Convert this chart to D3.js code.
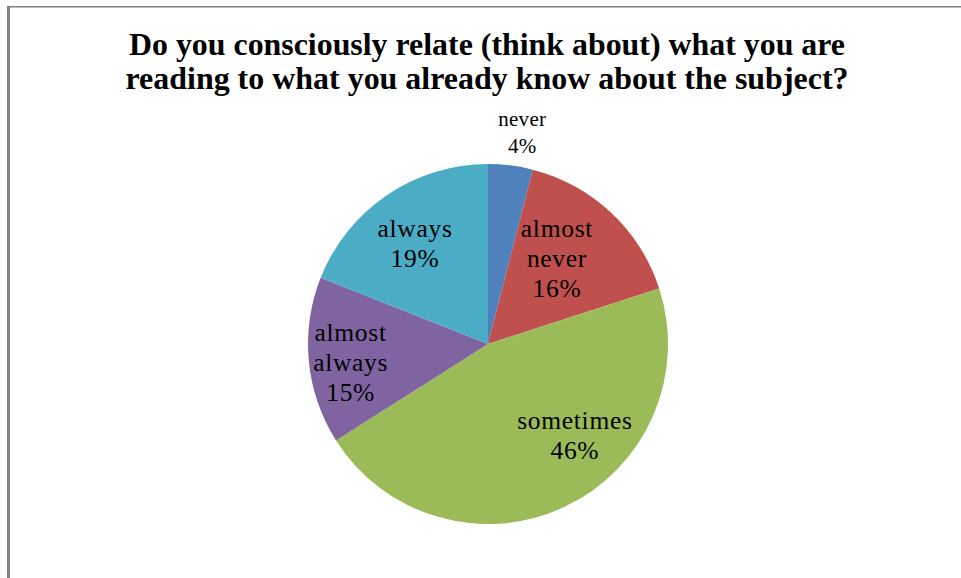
<!DOCTYPE html>
<html>
<head>
<meta charset="utf-8">
<script src="https://cdn.jsdelivr.net/npm/d3@7"></script>
<style>
  html, body { margin: 0; padding: 0; background: #fff; }
  svg { display: block; }
</style>
</head>
<body>
<svg id="chart" width="961" height="578"></svg>
<script>
// Survey answers and their shares (percent)
const categories = ["never", "almost never", "sometimes", "almost always", "always"];
const shares = [4, 16, 46, 15, 19];
const colors = ["#4F81BD", "#C0504D", "#9BBB59", "#8064A2", "#4BACC6"];
const titleLines = [
  "Do you consciously relate (think about) what you are",
  "reading to what you already know about the subject?"
];
// label lines per slice (category text broken as shown, then the percentage)
const labelLines = [["never"], ["almost", "never"], ["sometimes"], ["almost", "always"], ["always"]];
// label placement: radial factor of the radius and angle nudge (degrees)
const labelRadius = [1.19, 0.61, 0.70, 0.77, 0.69];
const labelNudge = [2, -4.3, -18.4, -2.2, -1.8];

const W = 961, H = 578;
const cx = 488, cy = 344, R = 180;
const svg = d3.select("#chart");

// frame: left bar and top rule
svg.append("rect").attr("x", 7).attr("y", 6).attr("width", W - 7).attr("height", 1.5).attr("fill", "#808080");
svg.append("rect").attr("x", 7).attr("y", 6).attr("width", 3).attr("height", H - 6).attr("fill", "#808080");

// title, squeezed to its line widths
const titleWidths = [716, 723];
const title = svg.append("g");
titleLines.forEach((t, i) => {
  title.append("text")
    .attr("x", 487).attr("y", 55 + i * 34)
    .attr("text-anchor", "middle")
    .attr("font-family", "'Liberation Serif', 'Times New Roman', serif")
    .attr("font-weight", "bold")
    .attr("font-size", 31)
    .attr("textLength", titleWidths[i])
    .attr("lengthAdjust", "spacingAndGlyphs")
    .attr("fill", "#000")
    .text(t);
});

const data = categories.map((c, i) => ({ name: c, value: shares[i], i }));
const pie = d3.pie().value(d => d.value).sort(null);
const arcs = pie(data);
const arc = d3.arc().innerRadius(0).outerRadius(R);

const g = svg.append("g").attr("transform", `translate(${cx},${cy})`);
g.selectAll("path.slice")
  .data(arcs)
  .join("path")
  .attr("class", "slice")
  .attr("d", arc)
  .attr("fill", d => colors[d.data.i]);

// labels
arcs.forEach(a => {
  const i = a.data.i;
  const mid = (a.startAngle + a.endAngle) / 2 + labelNudge[i] * Math.PI / 180;
  const r = R * labelRadius[i];
  const lx = Math.sin(mid) * r, ly = -Math.cos(mid) * r;
  const lines = labelLines[i].concat([d3.format(".0%")(a.data.value / 100)]);
  const outside = labelRadius[i] > 1;
  const fs = outside ? 21 : 25.5;
  const lh = outside ? 27 : 30;
  const t = g.append("text")
    .attr("text-anchor", "middle")
    .attr("font-family", "'Liberation Serif', 'Times New Roman', serif")
    .attr("font-size", fs)
    .attr("letter-spacing", outside ? 0.3 : 0.7)
    .attr("fill", "#000");
  const y0 = ly - (lines.length - 1) * lh / 2 + fs * 0.33;
  lines.forEach((s, k) => {
    t.append("tspan").attr("x", lx).attr("y", y0 + k * lh).text(s);
  });
});
</script>
</body>
</html>
